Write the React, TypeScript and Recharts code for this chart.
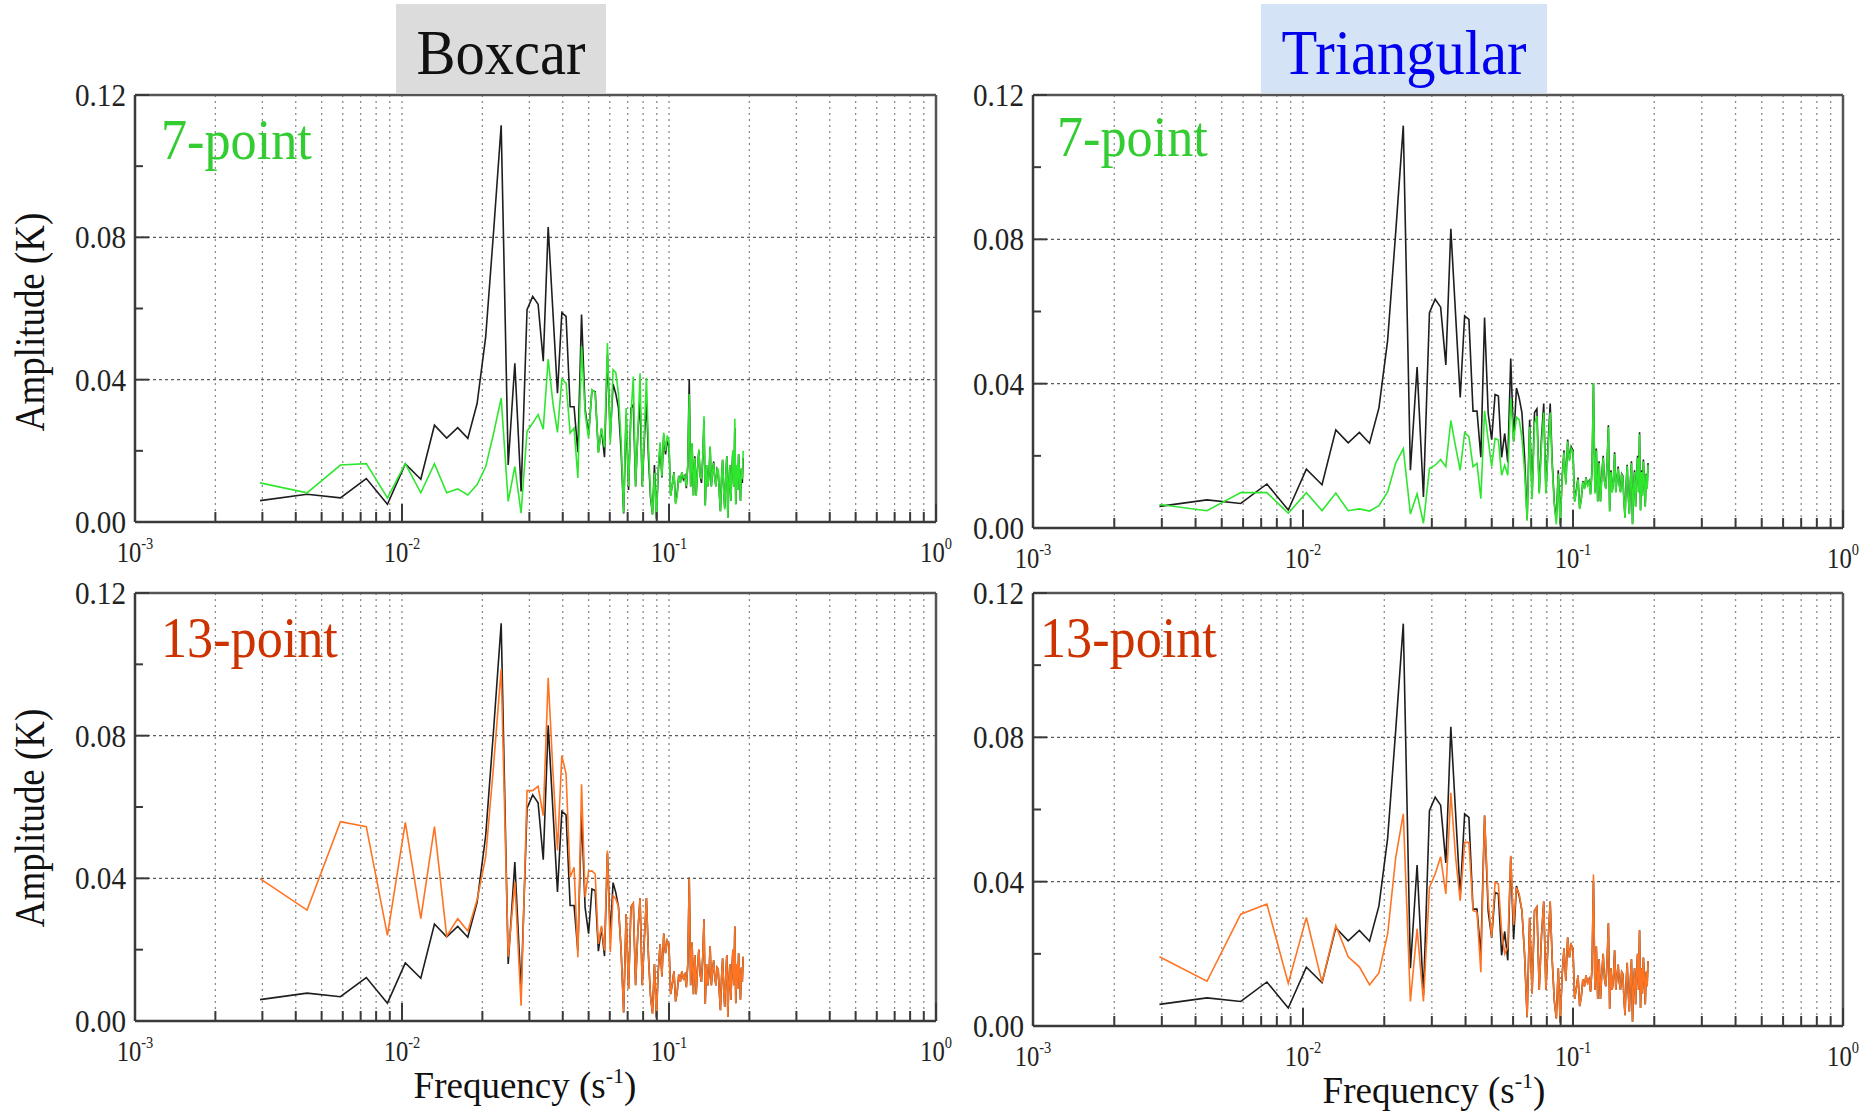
import React from 'react';
import { LineChart, Line, XAxis, YAxis, CartesianGrid, ReferenceLine } from 'recharts';

// frequency bins (s^-1)
const freq = [
  0.00294, 0.00441, 0.00588, 0.00735, 0.00882, 0.01029, 0.01176, 0.01323, 0.0147, 0.01617,
  0.01764, 0.01911, 0.02058, 0.02205, 0.02352, 0.02499, 0.02646, 0.02793, 0.0294, 0.03087,
  0.03234, 0.03381, 0.03528, 0.03675, 0.03822, 0.03969, 0.04116, 0.04263, 0.0441, 0.04557,
  0.04704, 0.04851, 0.04998, 0.05145, 0.05292, 0.05439, 0.05586, 0.05733, 0.0588, 0.06027,
  0.06174, 0.06321, 0.06468, 0.06615, 0.06762, 0.06909, 0.07056, 0.07203, 0.0735, 0.07497,
  0.07644, 0.07791, 0.07938, 0.08085, 0.08232, 0.08379, 0.08526, 0.08673, 0.0882, 0.08967,
  0.09114, 0.09261, 0.09408, 0.09555, 0.09702, 0.09849, 0.09996, 0.10143, 0.1029, 0.10437,
  0.10584, 0.10731, 0.10878, 0.11025, 0.11172, 0.11319, 0.11466, 0.11613, 0.1176, 0.11907,
  0.12054, 0.12201, 0.12348, 0.12495, 0.12642, 0.12789, 0.12936, 0.13083, 0.1323, 0.13377,
  0.13524, 0.13671, 0.13818, 0.13965, 0.14112, 0.14259, 0.14406, 0.14553, 0.147, 0.14847,
  0.14994, 0.15141, 0.15288, 0.15435, 0.15582, 0.15729, 0.15876, 0.16023, 0.1617, 0.16317,
  0.16464, 0.16611, 0.16758, 0.16905, 0.17052, 0.17199, 0.17346, 0.17493, 0.1764, 0.17787,
  0.17934, 0.18081, 0.18228, 0.18375, 0.18522, 0.18669, 0.18816, 0.18963,
];

// unfiltered amplitude spectrum (K)
const original = [
  0.0060, 0.0078, 0.0068, 0.0122, 0.0050, 0.0163, 0.0120, 0.0272, 0.0236, 0.0265,
  0.0235, 0.0333, 0.0520, 0.0820, 0.1115, 0.0160, 0.0446, 0.0086, 0.0597, 0.0634,
  0.0612, 0.0452, 0.0829, 0.0590, 0.0362, 0.0588, 0.0578, 0.0324, 0.0324, 0.0196,
  0.0583, 0.0318, 0.0245, 0.0370, 0.0366, 0.0196, 0.0262, 0.0182, 0.0470, 0.0240,
  0.0388, 0.0360, 0.0320, 0.0200, 0.0024, 0.0300, 0.0090, 0.0320, 0.0330, 0.0100,
  0.0250, 0.0345, 0.0100, 0.0230, 0.0345, 0.0180, 0.0070, 0.0021, 0.0160, 0.0010,
  0.0140, 0.0215, 0.0125, 0.0245, 0.0190, 0.0225, 0.0215, 0.0075, 0.0105, 0.0140,
  0.0055, 0.0080, 0.0130, 0.0110, 0.0140, 0.0120, 0.0130, 0.0095, 0.0160, 0.0402,
  0.0100, 0.0220, 0.0075, 0.0185, 0.0075, 0.0150, 0.0200, 0.0130, 0.0110, 0.0180,
  0.0285, 0.0048, 0.0160, 0.0100, 0.0130, 0.0210, 0.0100, 0.0140, 0.0170, 0.0120,
  0.0100, 0.0150, 0.0145, 0.0080, 0.0030, 0.0120, 0.0175, 0.0090, 0.0040, 0.0130,
  0.0185, 0.0012, 0.0110, 0.0160, 0.0060, 0.0140, 0.0200, 0.0100, 0.0265, 0.0050,
  0.0160, 0.0090, 0.0190, 0.0130, 0.0060, 0.0150, 0.0110, 0.0180,
];

const boxcar7 = [
  0.0110, 0.0082, 0.0160, 0.0164, 0.0068, 0.0164, 0.0082, 0.0164, 0.0082, 0.0093,
  0.0076, 0.0105, 0.0155, 0.0250, 0.0348, 0.0058, 0.0156, 0.0025, 0.0255, 0.0278,
  0.0302, 0.0261, 0.0458, 0.0334, 0.0252, 0.0402, 0.0390, 0.0250, 0.0264, 0.0124,
  0.0494, 0.0306, 0.0236, 0.0372, 0.0363, 0.0194, 0.0264, 0.0210, 0.0503, 0.0220,
  0.0428, 0.0420, 0.0360, 0.0230, 0.0026, 0.0320, 0.0100, 0.0300, 0.0409, 0.0100,
  0.0250, 0.0418, 0.0100, 0.0250, 0.0405, 0.0210, 0.0080, 0.0021, 0.0138, 0.0007,
  0.0150, 0.0224, 0.0129, 0.0251, 0.0200, 0.0243, 0.0230, 0.0073, 0.0105, 0.0138,
  0.0050, 0.0073, 0.0129, 0.0110, 0.0140, 0.0125, 0.0129, 0.0100, 0.0160, 0.0360,
  0.0100, 0.0222, 0.0073, 0.0180, 0.0073, 0.0150, 0.0204, 0.0130, 0.0120, 0.0180,
  0.0297, 0.0045, 0.0160, 0.0100, 0.0130, 0.0213, 0.0100, 0.0140, 0.0166, 0.0120,
  0.0100, 0.0150, 0.0148, 0.0080, 0.0030, 0.0120, 0.0175, 0.0090, 0.0035, 0.0130,
  0.0185, 0.0012, 0.0110, 0.0160, 0.0060, 0.0140, 0.0200, 0.0100, 0.0290, 0.0050,
  0.0160, 0.0090, 0.0190, 0.0130, 0.0060, 0.0150, 0.0120, 0.0200,
];

const triangular7 = [
  0.0065, 0.0048, 0.0098, 0.0098, 0.0041, 0.0098, 0.0048, 0.0097, 0.0048, 0.0053,
  0.0047, 0.0062, 0.0100, 0.0180, 0.0220, 0.0039, 0.0095, 0.0013, 0.0165, 0.0174,
  0.0190, 0.0170, 0.0298, 0.0225, 0.0160, 0.0264, 0.0253, 0.0170, 0.0179, 0.0081,
  0.0325, 0.0244, 0.0170, 0.0248, 0.0244, 0.0146, 0.0174, 0.0146, 0.0360, 0.0240,
  0.0307, 0.0300, 0.0250, 0.0160, 0.0020, 0.0280, 0.0080, 0.0290, 0.0310, 0.0095,
  0.0230, 0.0320, 0.0095, 0.0215, 0.0320, 0.0170, 0.0065, 0.0010, 0.0150, 0.0010,
  0.0135, 0.0210, 0.0120, 0.0240, 0.0185, 0.0220, 0.0210, 0.0072, 0.0100, 0.0135,
  0.0052, 0.0078, 0.0128, 0.0108, 0.0138, 0.0118, 0.0128, 0.0092, 0.0155, 0.0402,
  0.0095, 0.0215, 0.0072, 0.0180, 0.0072, 0.0145, 0.0195, 0.0128, 0.0108, 0.0175,
  0.0280, 0.0045, 0.0155, 0.0098, 0.0128, 0.0205, 0.0098, 0.0138, 0.0165, 0.0118,
  0.0098, 0.0148, 0.0142, 0.0078, 0.0028, 0.0118, 0.0172, 0.0088, 0.0038, 0.0128,
  0.0180, 0.0010, 0.0108, 0.0155, 0.0058, 0.0138, 0.0195, 0.0098, 0.0260, 0.0048,
  0.0155, 0.0088, 0.0185, 0.0128, 0.0058, 0.0148, 0.0108, 0.0175,
];

const boxcar13 = [
  0.0399, 0.0311, 0.0559, 0.0545, 0.0240, 0.0557, 0.0287, 0.0545, 0.0238, 0.0287,
  0.0252, 0.0340, 0.0460, 0.0720, 0.0987, 0.0180, 0.0390, 0.0043, 0.0646, 0.0646,
  0.0658, 0.0576, 0.0962, 0.0700, 0.0478, 0.0744, 0.0693, 0.0403, 0.0431, 0.0179,
  0.0664, 0.0347, 0.0420, 0.0421, 0.0412, 0.0216, 0.0267, 0.0197, 0.0478, 0.0193,
  0.0351, 0.0342, 0.0320, 0.0200, 0.0024, 0.0300, 0.0090, 0.0320, 0.0330, 0.0100,
  0.0250, 0.0345, 0.0100, 0.0230, 0.0345, 0.0180, 0.0070, 0.0021, 0.0160, 0.0010,
  0.0140, 0.0215, 0.0125, 0.0245, 0.0190, 0.0225, 0.0215, 0.0075, 0.0105, 0.0140,
  0.0055, 0.0080, 0.0130, 0.0110, 0.0140, 0.0120, 0.0130, 0.0095, 0.0160, 0.0400,
  0.0100, 0.0220, 0.0075, 0.0185, 0.0075, 0.0150, 0.0200, 0.0130, 0.0110, 0.0180,
  0.0285, 0.0048, 0.0160, 0.0100, 0.0130, 0.0210, 0.0100, 0.0140, 0.0170, 0.0120,
  0.0100, 0.0150, 0.0145, 0.0080, 0.0030, 0.0120, 0.0175, 0.0090, 0.0040, 0.0130,
  0.0185, 0.0012, 0.0110, 0.0160, 0.0060, 0.0140, 0.0200, 0.0100, 0.0265, 0.0050,
  0.0160, 0.0090, 0.0190, 0.0130, 0.0060, 0.0150, 0.0110, 0.0180,
];

const triangular13 = [
  0.0192, 0.0124, 0.0310, 0.0338, 0.0118, 0.0301, 0.0121, 0.0278, 0.0192, 0.0164,
  0.0114, 0.0147, 0.0255, 0.0467, 0.0588, 0.0068, 0.0269, 0.0068, 0.0384, 0.0421,
  0.0469, 0.0366, 0.0646, 0.0467, 0.0347, 0.0509, 0.0509, 0.0320, 0.0315, 0.0149,
  0.0583, 0.0347, 0.0246, 0.0398, 0.0394, 0.0264, 0.0200, 0.0218, 0.0472, 0.0280,
  0.0384, 0.0366, 0.0320, 0.0200, 0.0024, 0.0300, 0.0090, 0.0320, 0.0330, 0.0100,
  0.0250, 0.0345, 0.0100, 0.0230, 0.0345, 0.0180, 0.0070, 0.0021, 0.0160, 0.0010,
  0.0140, 0.0215, 0.0125, 0.0245, 0.0190, 0.0225, 0.0215, 0.0075, 0.0105, 0.0140,
  0.0055, 0.0080, 0.0130, 0.0110, 0.0140, 0.0120, 0.0130, 0.0095, 0.0160, 0.0420,
  0.0100, 0.0220, 0.0075, 0.0185, 0.0075, 0.0150, 0.0200, 0.0130, 0.0110, 0.0180,
  0.0285, 0.0048, 0.0160, 0.0100, 0.0130, 0.0210, 0.0100, 0.0140, 0.0170, 0.0120,
  0.0100, 0.0150, 0.0145, 0.0080, 0.0030, 0.0120, 0.0175, 0.0090, 0.0040, 0.0130,
  0.0185, 0.0012, 0.0110, 0.0160, 0.0060, 0.0140, 0.0200, 0.0100, 0.0265, 0.0050,
  0.0160, 0.0090, 0.0190, 0.0130, 0.0060, 0.0150, 0.0110, 0.0180,
];

const xTicks = [
  0.001, 0.002, 0.003, 0.004, 0.005, 0.006, 0.007, 0.008, 0.009,
  0.01, 0.02, 0.03, 0.04, 0.05, 0.06, 0.07, 0.08, 0.09,
  0.1, 0.2, 0.3, 0.4, 0.5, 0.6, 0.7, 0.8, 0.9, 1,
];
const yTicks = [0, 0.02, 0.04, 0.06, 0.08, 0.1, 0.12];
const yMajor = [0, 0.04, 0.08, 0.12];

const SERIF = '"Liberation Serif", "Times New Roman", serif';
const AXIS = '#3a3a3a';

const XTick = (props: any) => {
  const { x, y, payload } = props;
  const lg = Math.log10(payload.value);
  const exp = Math.round(lg);
  const major = Math.abs(lg - exp) < 1e-6;
  return (
    <g>
      <line x1={x} x2={x} y1={y} y2={y - (major ? 18 : 10)} stroke={AXIS} strokeWidth={2} />
      {major && (
        <text
          transform={`translate(${x},${y + 40}) scale(0.85,1)`}
          textAnchor="middle"
          fontFamily={SERIF}
          fontSize={29}
          fill="#222"
        >
          10
          <tspan fontSize={17} dy={-13}>{`${exp}`}</tspan>
        </text>
      )}
    </g>
  );
};

const YTick = (props: any) => {
  const { x, y, payload } = props;
  const v = payload.value;
  const major = yMajor.some((m) => Math.abs(m - v) < 1e-9);
  return (
    <g>
      <line x1={x} x2={x + (major ? 14 : 8)} y1={y} y2={y} stroke={AXIS} strokeWidth={2} />
      {major && (
        <text
          transform={`translate(${x - 9},${y}) scale(0.94,1)`}
          textAnchor="end"
          dy="0.35em"
          fontFamily={SERIF}
          fontSize={31}
          fill="#222"
        >
          {v.toFixed(2)}
        </text>
      )}
    </g>
  );
};

type PanelProps = {
  left: number;
  top: number;
  width: number;
  height: number;
  smoothed: number[];
  color: string;
};

const ML = 70;
const MT = 20;
const MR = 20;
const MB = 70;

const Panel = ({ left, top, width, height, smoothed, color }: PanelProps) => {
  const rows = freq.map((f, i) => ({ f, raw: original[i], smooth: smoothed[i] }));
  return (
    <div style={{ position: 'absolute', left: left - ML, top: top - MT }}>
      <LineChart
        width={width + ML + MR}
        height={height + MT + MB}
        data={rows}
        margin={{ top: MT, right: MR, bottom: 0, left: 0 }}
      >
        <CartesianGrid horizontal={false} stroke="#8c8c8c" strokeDasharray="2 4" strokeWidth={1.3} />
        <XAxis
          dataKey="f"
          type="number"
          scale="log"
          domain={[0.001, 1]}
          ticks={xTicks}
          interval={0}
          height={MB}
          axisLine={false}
          tickLine={false}
          tickSize={0}
          tickMargin={0}
          tick={<XTick />}
          allowDataOverflow
        />
        <YAxis
          type="number"
          domain={[0, 0.12]}
          ticks={yTicks}
          interval={0}
          width={ML}
          axisLine={false}
          tickLine={false}
          tickSize={0}
          tickMargin={0}
          tick={<YTick />}
          allowDataOverflow
        />
        <ReferenceLine y={0.04} stroke="#5a5a5a" strokeDasharray="3 3" strokeWidth={1.3} />
        <ReferenceLine y={0.08} stroke="#5a5a5a" strokeDasharray="3 3" strokeWidth={1.3} />
        <Line dataKey="raw" stroke="#1e1e1e" strokeWidth={1.6} dot={false} isAnimationActive={false} />
        <Line dataKey="smooth" stroke={color} strokeWidth={1.6} dot={false} isAnimationActive={false} />
        <ReferenceLine y={0} stroke={AXIS} strokeWidth={2.5} />
        <ReferenceLine y={0.12} stroke="#555" strokeWidth={2.5} />
        <ReferenceLine x={0.001} stroke={AXIS} strokeWidth={2.5} />
        <ReferenceLine x={1} stroke="#555" strokeWidth={2.5} />
      </LineChart>
    </div>
  );
};

const GREEN_LINE = '#2fe62f';
const GREEN_TEXT = '#33cc33';
const ORANGE_LINE = '#ff7422';
const ORANGE_TEXT = '#cc3300';

export default function App() {
  return (
    <div
      style={{
        position: 'fixed',
        left: 0,
        top: 0,
        width: 1870,
        height: 1113,
        background: '#fff',
        overflow: 'hidden',
      }}
    >
      <Panel left={135} top={95} width={801} height={427} smoothed={boxcar7} color={GREEN_LINE} />
      <Panel left={1033} top={95} width={810} height={433} smoothed={triangular7} color={GREEN_LINE} />
      <Panel left={135} top={593} width={801} height={428} smoothed={boxcar13} color={ORANGE_LINE} />
      <Panel left={1033} top={593} width={810} height={433} smoothed={triangular13} color={ORANGE_LINE} />

      <svg
        width={1870}
        height={1113}
        style={{ position: 'absolute', left: 0, top: 0, pointerEvents: 'none' }}
        fontFamily={SERIF}
      >
        {/* column headings */}
        <rect x={396} y={4} width={210} height={89} fill="#dcdcdc" />
        <text transform="translate(501,74) scale(0.93,1)" textAnchor="middle" fontSize={63} fill="#111">
          Boxcar
        </text>
        <rect x={1261} y={4} width={286} height={89} fill="#d5e3f7" />
        <text transform="translate(1404,74) scale(0.93,1)" textAnchor="middle" fontSize={63} fill="#0000ee">
          Triangular
        </text>

        {/* panel tags */}
        <text transform="translate(161,159) scale(0.9,1)" fontSize={58} fill={GREEN_TEXT}>7-point</text>
        <text transform="translate(1057,156) scale(0.9,1)" fontSize={58} fill={GREEN_TEXT}>7-point</text>
        <text transform="translate(161,657) scale(0.9,1)" fontSize={58} fill={ORANGE_TEXT}>13-point</text>
        <text transform="translate(1040,657) scale(0.9,1)" fontSize={58} fill={ORANGE_TEXT}>13-point</text>

        {/* axis titles */}
        <text transform="translate(44,322) rotate(-90) scale(0.88,1)" textAnchor="middle" fontSize={42} fill="#111">
          Amplitude (K)
        </text>
        <text transform="translate(44,818) rotate(-90) scale(0.88,1)" textAnchor="middle" fontSize={42} fill="#111">
          Amplitude (K)
        </text>
        <text transform="translate(525,1098)" textAnchor="middle" fontSize={37} fill="#111">
          Frequency (s<tspan fontSize={22} dy={-15}>-1</tspan><tspan dy={15}>)</tspan>
        </text>
        <text transform="translate(1434,1103)" textAnchor="middle" fontSize={37} fill="#111">
          Frequency (s<tspan fontSize={22} dy={-15}>-1</tspan><tspan dy={15}>)</tspan>
        </text>
      </svg>
    </div>
  );
}
